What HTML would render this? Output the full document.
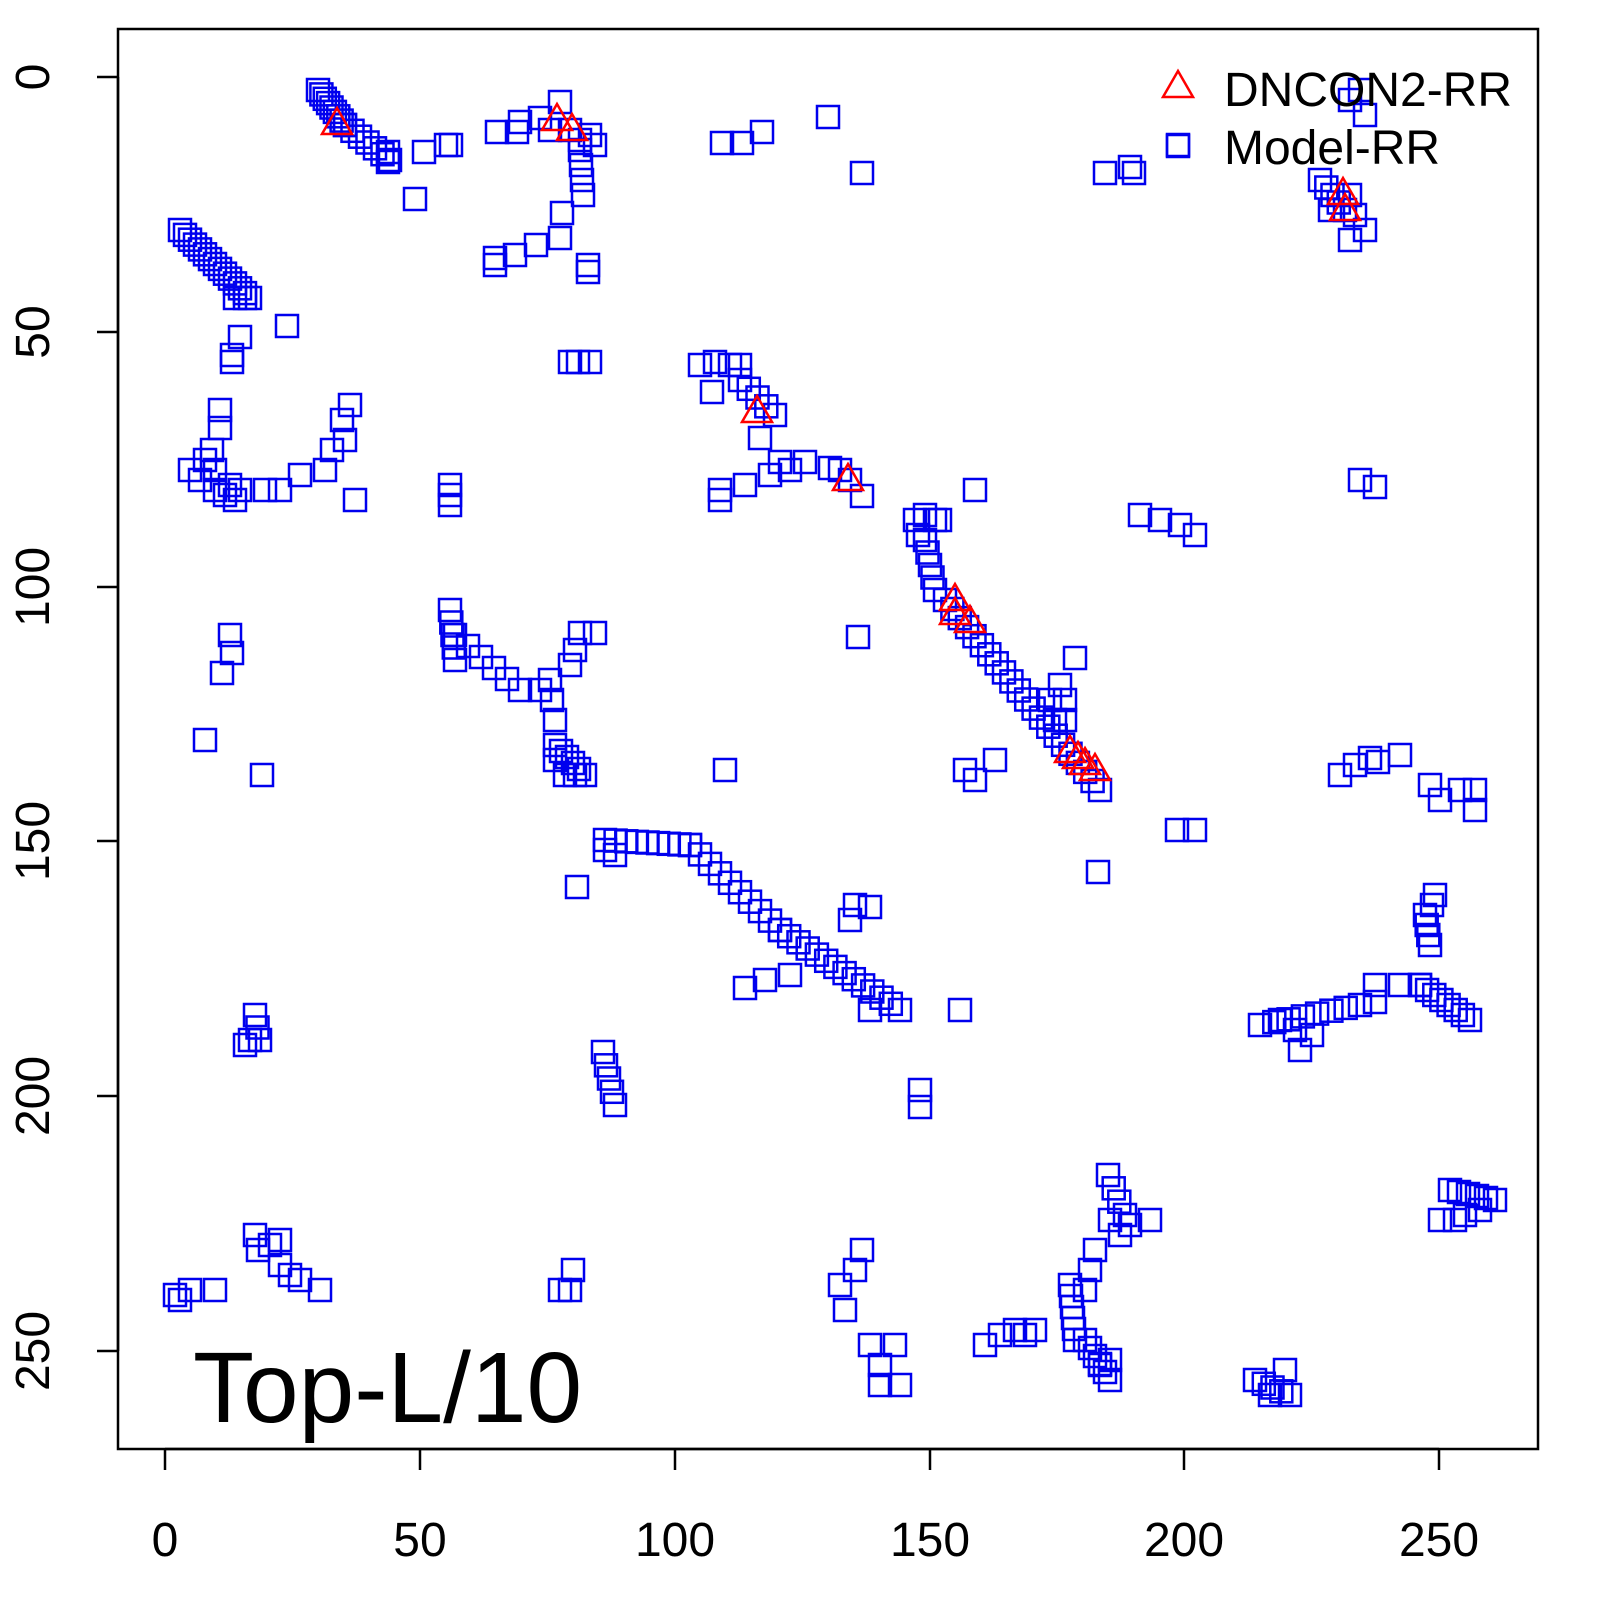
<!DOCTYPE html>
<html><head><meta charset="utf-8"><style>
html,body{margin:0;padding:0;background:#fff;}
svg{display:block;font-family:"Liberation Sans",Arial,sans-serif;}
</style></head><body>
<svg id="s" width="1600" height="1600" xmlns="http://www.w3.org/2000/svg">
<rect x="0" y="0" width="1600" height="1600" fill="#fff"/>
<rect x="118" y="29" width="1420" height="1420" fill="none" stroke="#000" stroke-width="2.5"/>
<g stroke="#000" stroke-width="2.5">
<line x1="165" y1="1449" x2="1439" y2="1449"/>
<line x1="165" y1="1449" x2="165" y2="1470"/><line x1="420" y1="1449" x2="420" y2="1470"/>
<line x1="675" y1="1449" x2="675" y2="1470"/><line x1="930" y1="1449" x2="930" y2="1470"/>
<line x1="1184" y1="1449" x2="1184" y2="1470"/><line x1="1439" y1="1449" x2="1439" y2="1470"/>
<line x1="118" y1="77" x2="118" y2="1351"/>
<line x1="118" y1="77" x2="97" y2="77"/><line x1="118" y1="332" x2="97" y2="332"/>
<line x1="118" y1="587" x2="97" y2="587"/><line x1="118" y1="841" x2="97" y2="841"/>
<line x1="118" y1="1096" x2="97" y2="1096"/><line x1="118" y1="1351" x2="97" y2="1351"/>
</g>
<g font-size="48" text-anchor="middle" fill="#000">
<text x="165" y="1556">0</text><text x="420" y="1556">50</text><text x="675" y="1556">100</text>
<text x="930" y="1556">150</text><text x="1184" y="1556">200</text><text x="1439" y="1556">250</text>
<text transform="translate(49,77) rotate(-90)">0</text>
<text transform="translate(49,332) rotate(-90)">50</text>
<text transform="translate(49,587) rotate(-90)">100</text>
<text transform="translate(49,841) rotate(-90)">150</text>
<text transform="translate(49,1096) rotate(-90)">200</text>
<text transform="translate(49,1351) rotate(-90)">250</text>
</g>
<text x="193" y="1422" font-size="100" fill="#000">Top-L/10</text>
<g id="sq" fill="none" stroke="#0000ee" stroke-width="2.5"></g>
<g id="tr" fill="none" stroke="#ff0000" stroke-width="2.5"></g>
<text x="1224" y="106" font-size="48" fill="#000">DNCON2-RR</text>
<text x="1224" y="164" font-size="48" fill="#000">Model-RR</text>
</svg>
<script>
var P=[];
function p(){for(var i=0;i<arguments.length;i+=2)P.push([arguments[i],arguments[i+1]]);}
function seg(x1,y1,x2,y2,n){for(var i=0;i<n;i++){var t=n>1?i/(n-1):0;P.push([x1+(x2-x1)*t,y1+(y2-y1)*t]);}}
seg(318,90,345,125,9);seg(345,125,390,160,7);p(424,152,446,145,451,145,415,199,388,152,388,162);
p(497,132,517,132,520,122,540,118,560,102,570,130,580,140,595,145,590,135,550,130);
seg(580,150,583,195,4);p(562,213,560,238,536,245,515,255,495,258,495,265,588,265,588,272,578,362,590,362,570,362);
seg(180,230,250,298,15);p(235,298,245,298,287,326,240,337,232,355,232,362);
p(722,143,742,143,762,132,828,117,862,173,1105,173,1130,167,1134,173,1178,146);
seg(1320,180,1345,210,5);p(1330,210,1355,215,1365,230,1350,240,1350,100,1360,90,1365,115,1350,195);
p(190,470,205,460,215,470,220,410,220,428,212,450,200,480,215,490,225,495,235,500,230,485,240,490,265,490,280,490,300,475,325,470,332,450,342,420,350,405,345,440,355,500);
seg(450,485,450,505,3);
p(700,365,715,362,730,365,740,365,712,392);seg(740,380,775,415,5);p(760,438,780,462,805,462,830,468,850,480,862,496,720,490,720,500,745,485,770,475,790,470,840,470);
p(975,490);
p(915,520,925,515,935,520,940,520,918,535);seg(925,540,935,590,5);seg(945,600,1100,790,22);
p(1075,658,1060,685,1050,700,1065,700,1065,720,1055,720,1140,515,1160,520,1180,525,1195,535,1360,480,1375,487,858,637);
seg(450,610,455,660,5);seg(455,635,520,690,6);p(540,690,550,680,552,700,555,720,570,665,575,650,580,633,595,633);
seg(555,745,585,775,6);p(565,775,575,775,555,760);
p(230,635,232,653,222,673,205,740,262,775,725,770,965,770,975,780,995,760,1177,830,1195,830,1098,872);
seg(605,840,690,845,9);p(605,850,615,855);seg(690,845,780,930,10);seg(780,930,900,1010,14);p(577,887,745,988,765,980,790,975,870,1010);
p(855,905,870,907,850,920,960,1010);
seg(255,1015,260,1040,3);p(250,1040,245,1045);seg(603,1052,615,1105,5);seg(920,1090,920,1107,2);
p(1340,775,1355,765,1370,758,1378,762,1400,755,1430,785,1440,800,1460,790,1475,790,1475,810,1435,895,1432,905);
seg(1425,915,1430,945,4);seg(1260,1025,1360,1005,8);p(1375,985,1400,985,1375,1002,1420,985);seg(1420,985,1470,1020,8);p(1280,1020,1300,1050,1312,1035,1295,1030);
seg(1450,1190,1495,1200,6);p(1455,1220,1465,1215,1480,1210,1440,1220);
seg(1108,1175,1125,1215,4);p(1110,1220,1130,1225,1150,1220,1120,1235);seg(1095,1250,1085,1290,3);seg(1070,1285,1075,1340,6);seg(1085,1340,1110,1380,6);p(1100,1365,1110,1360);
seg(1255,1380,1290,1395,5);p(1270,1395,1285,1370);
p(985,1345,1000,1335,1015,1330,1035,1330,1025,1335);
p(840,1285,845,1310,855,1270,862,1250,870,1345,880,1365,895,1345,900,1385,880,1385);
p(175,1295,180,1300,190,1290,215,1290,255,1235,270,1245,280,1265,300,1280,320,1290,258,1250,280,1240,290,1275);
p(570,1290,573,1270,560,1290);
p(1178,145);
var s='';P.forEach(function(q){s+='<rect x="'+(q[0]-11).toFixed(1)+'" y="'+(q[1]-11).toFixed(1)+'" width="22" height="22"/>';});
document.getElementById('sq').innerHTML=s;
var T=[337,122,557,118,572,128,757,410,848,478,955,598,955,612,970,620,1070,750,1078,756,1085,762,1095,768,1343,192,1345,208,1178,85];
var t='';for(var i=0;i<T.length;i+=2){var x=T[i],y=T[i+1];t+='<polygon points="'+x+','+(y-14)+' '+(x-15)+','+(y+12)+' '+(x+15)+','+(y+12)+'"/>';}
document.getElementById('tr').innerHTML=t;
</script>
</body></html>
